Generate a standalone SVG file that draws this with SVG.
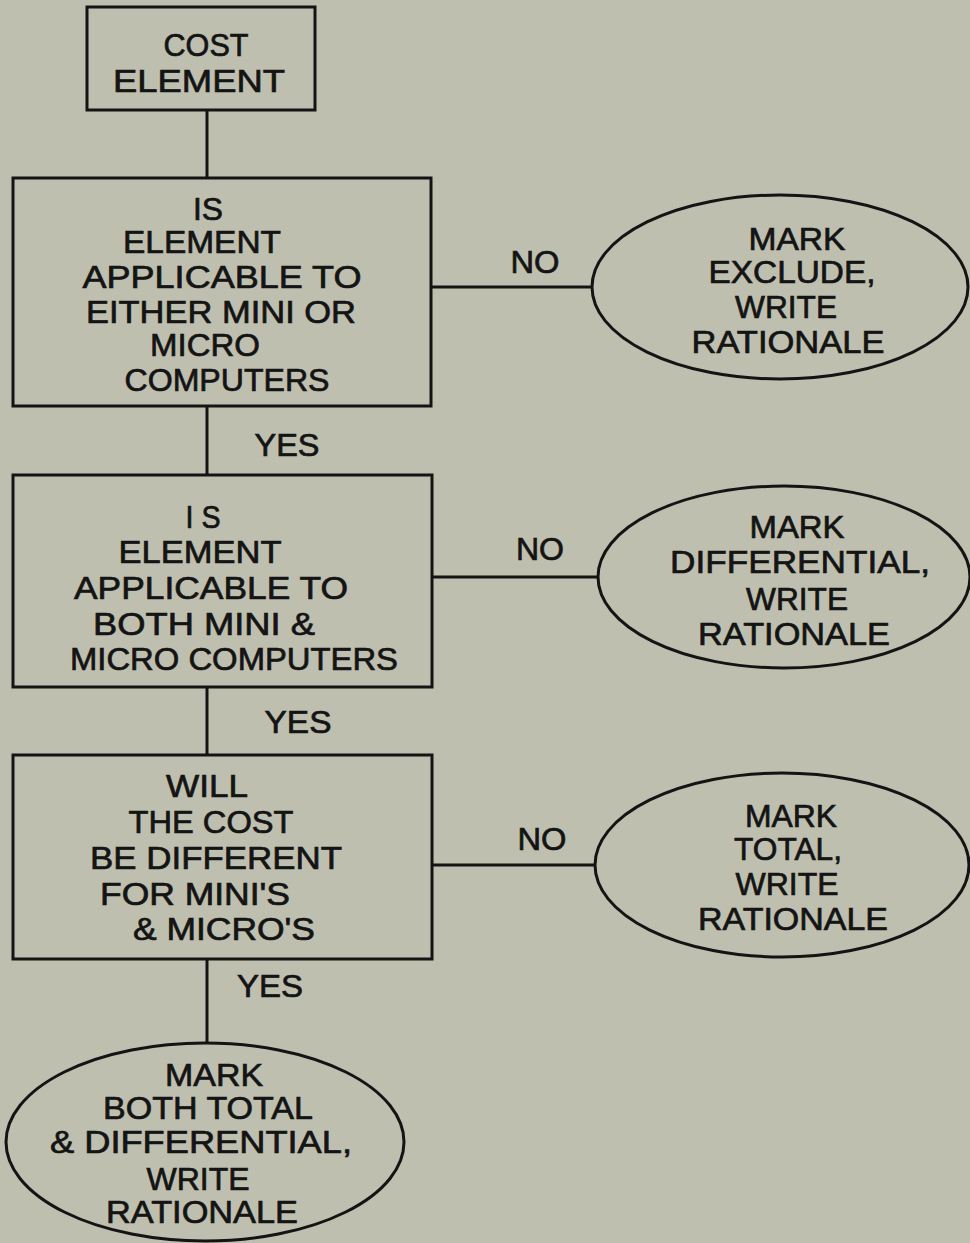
<svg xmlns="http://www.w3.org/2000/svg" width="970" height="1243" viewBox="0 0 970 1243">
<style>
.bg{fill:#bebfaf}
.shape{fill:none;stroke:#141414;stroke-width:3}
.conn{fill:none;stroke:#141414;stroke-width:3}
text{font-family:"Liberation Sans",Arial,sans-serif;font-size:32px;fill:#141414;stroke:#141414;stroke-width:0.7;text-anchor:middle}
</style>
<rect class="bg" x="0" y="0" width="970" height="1243"/>
<g id="connectors">
<line class="conn" x1="207" y1="110" x2="207" y2="178"/>
<line class="conn" x1="207" y1="406" x2="207" y2="475"/>
<line class="conn" x1="207" y1="687" x2="207" y2="755"/>
<line class="conn" x1="207" y1="959" x2="207" y2="1042"/>
<line class="conn" x1="431" y1="287" x2="593" y2="287"/>
<line class="conn" x1="432" y1="577" x2="598" y2="577"/>
<line class="conn" x1="432" y1="865" x2="595" y2="865"/>
<text x="287" y="456" textLength="65" lengthAdjust="spacingAndGlyphs">YES</text>
<text x="298" y="733" textLength="67" lengthAdjust="spacingAndGlyphs">YES</text>
<text x="270" y="997" textLength="66" lengthAdjust="spacingAndGlyphs">YES</text>
<text x="535" y="273" textLength="49" lengthAdjust="spacingAndGlyphs">NO</text>
<text x="540" y="560" textLength="48" lengthAdjust="spacingAndGlyphs">NO</text>
<text x="542" y="850" textLength="49" lengthAdjust="spacingAndGlyphs">NO</text>
</g>
<g id="cost-element">
<rect class="shape" x="87" y="7" width="228" height="103"/>
<text x="206" y="56" textLength="85" lengthAdjust="spacingAndGlyphs">COST</text>
<text x="199" y="92" textLength="172" lengthAdjust="spacingAndGlyphs">ELEMENT</text>
</g>
<g id="q-either">
<rect class="shape" x="13" y="178" width="418" height="228"/>
<text x="208" y="220" textLength="30" lengthAdjust="spacingAndGlyphs">IS</text>
<text x="202" y="253" textLength="158" lengthAdjust="spacingAndGlyphs">ELEMENT</text>
<text x="222" y="288" textLength="279" lengthAdjust="spacingAndGlyphs">APPLICABLE TO</text>
<text x="221" y="323" textLength="270" lengthAdjust="spacingAndGlyphs">EITHER MINI OR</text>
<text x="205" y="356" textLength="110" lengthAdjust="spacingAndGlyphs">MICRO</text>
<text x="227" y="391" textLength="205" lengthAdjust="spacingAndGlyphs">COMPUTERS</text>
</g>
<g id="q-both">
<rect class="shape" x="13" y="475" width="419" height="212"/>
<text x="203" y="528" textLength="35" lengthAdjust="spacingAndGlyphs">I S</text>
<text x="200" y="563" textLength="163" lengthAdjust="spacingAndGlyphs">ELEMENT</text>
<text x="211" y="599" textLength="274" lengthAdjust="spacingAndGlyphs">APPLICABLE TO</text>
<text x="204" y="635" textLength="222" lengthAdjust="spacingAndGlyphs">BOTH MINI &amp;</text>
<text x="234" y="670" textLength="328" lengthAdjust="spacingAndGlyphs">MICRO COMPUTERS</text>
</g>
<g id="q-cost">
<rect class="shape" x="13" y="755" width="419" height="204"/>
<text x="207" y="797" textLength="82" lengthAdjust="spacingAndGlyphs">WILL</text>
<text x="211" y="833" textLength="165" lengthAdjust="spacingAndGlyphs">THE COST</text>
<text x="216" y="869" textLength="252" lengthAdjust="spacingAndGlyphs">BE DIFFERENT</text>
<text x="195" y="905" textLength="190" lengthAdjust="spacingAndGlyphs">FOR MINI'S</text>
<text x="224" y="940" textLength="182" lengthAdjust="spacingAndGlyphs">&amp; MICRO'S</text>
</g>
<g id="mark-exclude">
<ellipse class="shape" cx="780" cy="287" rx="188" ry="92"/>
<text x="797" y="250" textLength="97" lengthAdjust="spacingAndGlyphs">MARK</text>
<text x="792" y="283" textLength="167" lengthAdjust="spacingAndGlyphs">EXCLUDE,</text>
<text x="786" y="318" textLength="102" lengthAdjust="spacingAndGlyphs">WRITE</text>
<text x="788" y="353" textLength="193" lengthAdjust="spacingAndGlyphs">RATIONALE</text>
</g>
<g id="mark-differential">
<ellipse class="shape" cx="784" cy="577" rx="186" ry="91"/>
<text x="797" y="538" textLength="95" lengthAdjust="spacingAndGlyphs">MARK</text>
<text x="800" y="573" textLength="260" lengthAdjust="spacingAndGlyphs">DIFFERENTIAL,</text>
<text x="797" y="610" textLength="102" lengthAdjust="spacingAndGlyphs">WRITE</text>
<text x="794" y="645" textLength="192" lengthAdjust="spacingAndGlyphs">RATIONALE</text>
</g>
<g id="mark-total">
<ellipse class="shape" cx="782" cy="865" rx="187" ry="92"/>
<text x="791" y="827" textLength="92" lengthAdjust="spacingAndGlyphs">MARK</text>
<text x="788" y="860" textLength="108" lengthAdjust="spacingAndGlyphs">TOTAL,</text>
<text x="787" y="895" textLength="103" lengthAdjust="spacingAndGlyphs">WRITE</text>
<text x="793" y="930" textLength="190" lengthAdjust="spacingAndGlyphs">RATIONALE</text>
</g>
<g id="mark-both">
<ellipse class="shape" cx="205" cy="1142" rx="199" ry="99"/>
<text x="214" y="1086" textLength="98" lengthAdjust="spacingAndGlyphs">MARK</text>
<text x="208" y="1119" textLength="210" lengthAdjust="spacingAndGlyphs">BOTH TOTAL</text>
<text x="201" y="1153" textLength="302" lengthAdjust="spacingAndGlyphs">&amp; DIFFERENTIAL,</text>
<text x="198" y="1190" textLength="103" lengthAdjust="spacingAndGlyphs">WRITE</text>
<text x="202" y="1223" textLength="192" lengthAdjust="spacingAndGlyphs">RATIONALE</text>
</g>
</svg>
